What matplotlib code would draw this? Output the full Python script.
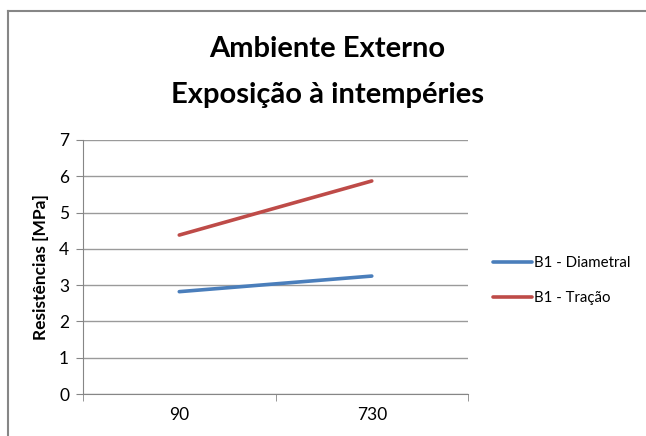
import matplotlib
matplotlib.use("Agg")
import matplotlib.pyplot as plt
from matplotlib.lines import Line2D

# dados das séries
idades = ["90", "730"]
diametral = [2.82, 3.25]
tracao = [4.38, 5.87]

plt.rcParams["font.family"] = ["Lato", "DejaVu Sans"]

fig = plt.figure(figsize=(6.46, 4.36), dpi=100)
ax = fig.add_axes([0.1285, 0.0963, 0.596, 0.5827])

x = list(range(len(idades)))
l1, = ax.plot(x, diametral, color="#4a7ebb", lw=2.6, solid_capstyle="round")
l2, = ax.plot(x, tracao, color="#be4b48", lw=2.6, solid_capstyle="round")

ax.set_xlim(-0.5, len(idades) - 0.5)
ax.set_ylim(0, 7)
ax.set_yticks(range(0, 8))
ax.set_xticks(x)
ax.set_xticklabels(idades)
ax.set_xticks([i - 0.5 for i in range(len(idades) + 1)], minor=True)
ax.tick_params(axis="x", which="major", length=0, pad=9, labelsize=12.5)
ax.tick_params(axis="x", which="minor", length=5, color="#868686", direction="out")
ax.tick_params(axis="y", length=5, color="#868686", direction="out", labelsize=12.5, pad=5)

ax.grid(axis="y", color="#9a9a9a", lw=1)
ax.set_axisbelow(True)
for s in ["top", "right"]:
    ax.spines[s].set_visible(False)
for s in ["left", "bottom"]:
    ax.spines[s].set_color("#868686")
ax.set_ylabel("Resistências [MPa]", fontsize=12.5, fontweight="bold", labelpad=7)

fig.text(0.507, 0.888, "Ambiente Externo", ha="center", va="center",
         fontsize=21, fontweight="bold")
fig.text(0.507, 0.782, "Exposição à intempéries", ha="center", va="center",
         fontsize=21, fontweight="bold")

fig.legend([l1, l2], ["B1 - Diametral", "B1 - Tração"], loc="center left",
           bbox_to_anchor=(0.742, 0.357), frameon=False, fontsize=10.8,
           handlelength=2.6, handletextpad=0.15, labelspacing=1.4)

# moldura do gráfico
fig.add_artist(Line2D([8 / 646, 1], [1 - 11 / 436] * 2, color="#868686", lw=1.5))
fig.add_artist(Line2D([8 / 646] * 2, [0, 1 - 11 / 436], color="#868686", lw=1.5))

fig.savefig("out.png", dpi=100)
